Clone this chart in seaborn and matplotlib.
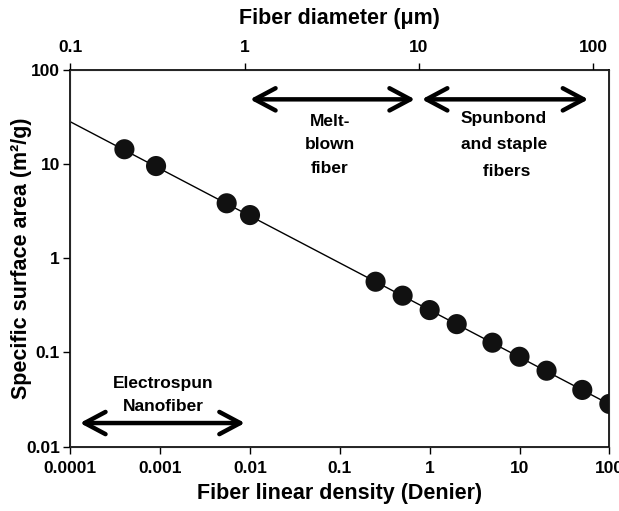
import matplotlib
matplotlib.use("Agg")
import matplotlib.pyplot as plt
import seaborn as sns
import pandas as pd

# fiber linear density (denier) vs specific surface area (m2/g)
denier = [0.0004, 0.0009, 0.0055, 0.01, 0.25, 0.5, 1, 2, 5, 10, 20, 50, 100]
surface_area = [14.4, 9.55, 3.84, 2.88, 0.564, 0.401, 0.282, 0.2, 0.127, 0.090, 0.064, 0.040, 0.0284]

# fitted trend line endpoints
fit_denier = [0.0001, 100]
fit_area = [28.2, 0.0282]

x_ticks = [0.0001, 0.001, 0.01, 0.1, 1, 10, 100]
x_labels = ["0.0001", "0.001", "0.01", "0.1", "1", "10", "100"]
y_ticks = [0.01, 0.1, 1, 10, 100]
y_labels = ["0.01", "0.1", "1", "10", "100"]
top_ticks = [0.1, 1, 10, 100]
top_labels = ["0.1", "1", "10", "100"]
top_range = [0.1, 123.7]

# (label, left end, right end, arrow height, text x, text y, line spacing)
ranges = [
    ("Melt-\nblown\nfiber", 0.01, 0.687, 48.8, 0.0778, 16.0, 1.74),
    ("Spunbond\nand staple\n fibers", 0.817, 58.4, 48.8, 6.73, 16.0, 1.93),
    ("Electrospun\nNanofiber", 0.000128, 0.00878, 0.0178, 0.00108, 0.0356, 1.67),
]

sns.set_style("ticks")
plt.rcParams["font.family"] = ["Liberation Sans", "DejaVu Sans"]
plt.rcParams["font.weight"] = "bold"
plt.rcParams["text.color"] = "black"
plt.rcParams["axes.labelcolor"] = "black"
plt.rcParams["xtick.color"] = "black"
plt.rcParams["ytick.color"] = "black"

df = pd.DataFrame({"denier": denier, "area": surface_area})
fit = pd.DataFrame({"denier": fit_denier, "area": fit_area})

fig = plt.figure(figsize=(6.19, 5.11), dpi=100)
ax = fig.add_axes([0.1136, 0.126, 0.8708, 0.737])
ax.set_xscale("log")
ax.set_yscale("log")

sns.lineplot(data=fit, x="denier", y="area", color="black", linewidth=1.0, ax=ax)
sns.scatterplot(data=df, x="denier", y="area", color="#111111", s=210,
                edgecolor="none", zorder=3, ax=ax)

ax.set_xlim(0.0001, 100)
ax.set_ylim(0.01, 100)
ax.set_xticks(x_ticks)
ax.set_xticklabels(x_labels)
ax.set_yticks(y_ticks)
ax.set_yticklabels(y_labels)
ax.minorticks_off()
ax.tick_params(axis="x", direction="out", length=5, width=1, labelsize=12.5, pad=5.5)
ax.tick_params(axis="y", direction="out", length=5, width=1, labelsize=12.5, pad=2.5)
for lab in ax.get_xticklabels() + ax.get_yticklabels():
    lab.set_fontweight("bold")
ax.set_xlabel("Fiber linear density (Denier)", fontsize=15.5, fontweight="bold", labelpad=5)
ax.set_ylabel("Specific surface area (m²/g)", fontsize=15.5, fontweight="bold", labelpad=-4.5)

for side in ["left", "bottom", "top", "right"]:
    ax.spines[side].set_color("black")
    ax.spines[side].set_linewidth(1.2)

ax2 = ax.twiny()
ax2.set_xscale("log")
ax2.set_xlim(*top_range)
ax2.set_xticks(top_ticks)
ax2.set_xticklabels(top_labels)
ax2.minorticks_off()
ax2.tick_params(axis="x", direction="out", length=5, width=1, labelsize=12.5, pad=6)
for lab in ax2.get_xticklabels():
    lab.set_fontweight("bold")
ax2.set_xlabel("Fiber diameter (\u03bcm)", fontsize=15.5, fontweight="bold", labelpad=11)

for label, x0, x1, ya, tx, ty, ls in ranges:
    ax.annotate("", xy=(x0, ya), xytext=(x1, ya),
                arrowprops=dict(arrowstyle="<->,head_length=1.5,head_width=0.8",
                                lw=3.2, color="black", shrinkA=0, shrinkB=0,
                                capstyle="round", joinstyle="round"))
    ax.text(tx, ty, label, ha="center", va="center", fontsize=12.5,
            fontweight="bold", linespacing=ls)

fig.savefig("out.png", dpi=100)
